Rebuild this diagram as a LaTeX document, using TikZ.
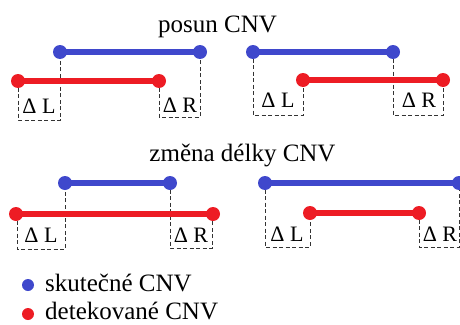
\documentclass[tikz,border=0pt]{standalone}
\usepackage{fontspec}
\setmainfont{Liberation Serif}
\definecolor{cnvblue}{RGB}{63,72,204}
\definecolor{cnvred}{RGB}{237,28,36}
\tikzset{
  seg/.style={line width=6pt},
  bluecnv/.style={seg, draw=cnvblue},
  redcnv/.style={seg, draw=cnvred},
  bdot/.style={circle, fill=cnvblue, inner sep=0pt, minimum size=14pt},
  rdot/.style={circle, fill=cnvred, inner sep=0pt, minimum size=14pt},
  dsh/.style={draw=black!80, line width=0.8pt, dash pattern=on 4pt off 2.5pt},
  delta/.style={anchor=base, inner sep=0pt, font=\fontsize{22}{24}\selectfont},
  title/.style={anchor=base, inner sep=0pt, font=\fontsize{25}{28}\selectfont},
  legtext/.style={anchor=base west, inner sep=0pt, font=\fontsize{25}{28}\selectfont},
  legdot/.style={circle, inner sep=0pt, minimum size=12pt}
}
\begin{document}
\begin{tikzpicture}[x=1pt,y=-1pt]
\useasboundingbox (0,0) rectangle (460,324);
% titles
\node[title] (t1) at (217.5,32) {posun CNV};
\node[title] (t2) at (242.5,161) {změna délky CNV};

% panel 1
\coordinate (b1l) at (60,52); \coordinate (b1r) at (200,52);
\coordinate (r1l) at (18,81); \coordinate (r1r) at (159,81);
\coordinate (p1a) at (18,120); \coordinate (p1b) at (60,120);
\coordinate (p1c) at (159,117); \coordinate (p1d) at (200,117);
\draw[dsh] (r1l) -- (p1a) -- (p1b) -- (b1l);
\draw[dsh] (r1r) -- (p1c) -- (p1d) -- (b1r);
\draw[bluecnv] (b1l) -- (b1r);
\draw[redcnv] (r1l) -- (r1r);
\node[bdot] at (b1l) {}; \node[bdot] at (b1r) {};
\node[rdot] at (r1l) {}; \node[rdot] at (r1r) {};
\node[delta] (dl1) at (39,113) {Δ L};
\node[delta] (dr1) at (180,112) {Δ R};

% panel 2
\coordinate (b2l) at (253,52); \coordinate (b2r) at (393,52);
\coordinate (r2l) at (303,80); \coordinate (r2r) at (443,80);
\coordinate (p2a) at (253,115); \coordinate (p2b) at (303,115);
\coordinate (p2c) at (393,115); \coordinate (p2d) at (443,115);
\draw[dsh] (b2l) -- (p2a) -- (p2b) -- (r2l);
\draw[dsh] (b2r) -- (p2c) -- (p2d) -- (r2r);
\draw[bluecnv] (b2l) -- (b2r);
\draw[redcnv] (r2l) -- (r2r);
\node[bdot] at (b2l) {}; \node[bdot] at (b2r) {};
\node[rdot] at (r2l) {}; \node[rdot] at (r2r) {};
\node[delta] (dl2) at (278,107) {Δ L};
\node[delta] (dr2) at (419,107) {Δ R};

% panel 3
\coordinate (b3l) at (65,183); \coordinate (b3r) at (170,183);
\coordinate (r3l) at (16,214); \coordinate (r3r) at (213,214);
\coordinate (p3a) at (17,249); \coordinate (p3b) at (65,249);
\coordinate (p3c) at (170,248); \coordinate (p3d) at (212,248);
\draw[dsh] (17,214) -- (p3a) -- (p3b) -- (b3l);
\draw[dsh] (b3r) -- (p3c) -- (p3d) -- (212,214);
\draw[redcnv] (r3l) -- (r3r);
\draw[bluecnv] (b3l) -- (b3r);
\node[bdot] at (b3l) {}; \node[bdot] at (b3r) {};
\node[rdot] at (r3l) {}; \node[rdot] at (r3r) {};
\node[delta] (dl3) at (41,242) {Δ L};
\node[delta] (dr3) at (191,242) {Δ R};

% panel 4
\coordinate (b4l) at (265,183); \coordinate (b4r) at (459,183);
\coordinate (r4l) at (310,213); \coordinate (r4r) at (419,213);
\coordinate (p4a) at (265,247); \coordinate (p4b) at (310,247);
\coordinate (p4c) at (419,247); \coordinate (p4d) at (459,247);
\draw[dsh] (b4l) -- (p4a) -- (p4b) -- (r4l);
\draw[dsh] (r4r) -- (p4c) -- (p4d) -- (b4r);
\draw[bluecnv] (b4l) -- (b4r);
\draw[redcnv] (r4l) -- (r4r);
\node[bdot] at (b4l) {}; \node[bdot] at (b4r) {};
\node[rdot] at (r4l) {}; \node[rdot] at (r4r) {};
\node[delta] (dl4) at (287,241) {Δ L};
\node[delta] (dr4) at (440,241) {Δ R};

% legend
\node[legdot, fill=cnvblue] (lb) at (28,285) {};
\node[legtext] (lbt) at (45,291) {skutečné CNV};
\node[legdot, fill=cnvred] (lr) at (28,314) {};
\node[legtext] (lrt) at (45,319) {detekované CNV};
\end{tikzpicture}
\end{document}
